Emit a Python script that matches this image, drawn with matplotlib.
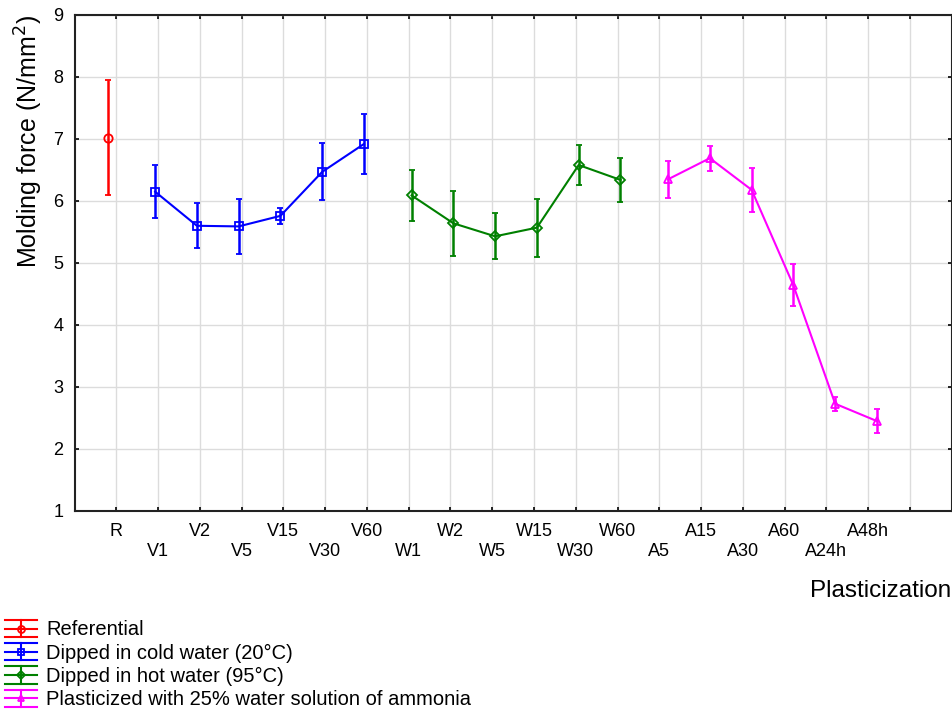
import numpy as np
import matplotlib.pyplot as plt
from matplotlib.lines import Line2D
from matplotlib.legend_handler import HandlerBase

plt.rcParams['font.family'] = ['Liberation Sans', 'DejaVu Sans']

# categories on the x axis (last tick has no label)
labels = ['R', 'V1', 'V2', 'V5', 'V15', 'V30', 'V60',
          'W1', 'W2', 'W5', 'W15', 'W30', 'W60',
          'A5', 'A15', 'A30', 'A60', 'A24h', 'A48h', '']

ref_mean = [7.02]
ref_err = [0.93]

cold_mean = [6.15, 5.60, 5.59, 5.76, 6.47, 6.92]
cold_err = [0.43, 0.36, 0.44, 0.13, 0.46, 0.48]

hot_mean = [6.09, 5.64, 5.43, 5.57, 6.58, 6.34]
hot_err = [0.41, 0.52, 0.37, 0.47, 0.33, 0.36]

amm_mean = [6.35, 6.69, 6.18, 4.64, 2.73, 2.45]
amm_err = [0.30, 0.20, 0.36, 0.34, 0.11, 0.20]

series = [
    ('Referential', ref_mean, ref_err, 0, -0.21, '#ff0000', 'o'),
    ('Dipped in cold water (20°C)', cold_mean, cold_err, 1, -0.07, '#0000ff', 's'),
    ('Dipped in hot water (95°C)', hot_mean, hot_err, 7, 0.07, '#008000', 'D'),
    ('Plasticized with 25% water solution of ammonia', amm_mean, amm_err, 13, 0.21, '#ff00ff', '^'),
]


# legend symbol like statistica: three horizontal bars + whisker + marker
class Whisker(HandlerBase):
    def create_artists(self, legend, orig, xd, yd, w, h, fs, trans):
        col = orig.get_color()
        mk = orig.get_marker()
        x0, x1 = -xd, w - xd
        xm = (x0 + x1) / 2
        y0, y1 = -yd, h - yd
        ym = (y0 + y1) / 2
        arts = []
        for y in (y0, ym, y1):
            arts.append(Line2D([x0, x1], [y, y], color=col, lw=1.5))
        arts.append(Line2D([xm, xm], [y0, y1], color=col, lw=1.5))
        arts.append(Line2D([xm], [ym], color=col, marker=mk, ms=5 if mk != 'D' else 4,
                           mfc='none', mec=col, mew=1.3))
        for a in arts:
            a.set_transform(trans)
        return arts


fig = plt.figure(figsize=(9.53, 7.10), dpi=100)
ax = fig.add_axes([0.0782, 0.2803, 0.9204, 0.6986])

proxies = []
for name, m, e, start, off, col, mk in series:
    x = np.arange(start, start + len(m)) + off
    ms = 5.5
    if mk == 'D':
        ms = 5
    if mk == 'o':
        ms = 6
    ax.errorbar(x, m, yerr=e, color=col, marker=mk, ms=ms, mfc='none',
                mec=col, mew=1.3, lw=1.5, elinewidth=1.8, capsize=2,
                capthick=1.8)
    proxies.append(Line2D([], [], color=col, marker=mk, label=name))

ax.set_xlim(-1, 20)
ax.set_ylim(1, 9)
ax.set_xticks(np.arange(20))
ax.set_xticklabels([l if i % 2 == 0 else '\n' + l for i, l in enumerate(labels)])
ax.set_yticks(np.arange(1, 10))
ax.grid(True, color='#dcdcdc', lw=1)
ax.set_axisbelow(True)
ax.tick_params(direction='in', length=3, width=1.2, top=True, right=True,
               labelsize=13, colors='black')
ax.tick_params(axis='x', pad=9)
ax.tick_params(axis='y', pad=8)
for s in ax.spines.values():
    s.set_linewidth(1.5)
    s.set_color('#222222')

ax.set_ylabel('Molding force (N/mm$^2$)', fontsize=18, loc='top', labelpad=6)
ax.set_xlabel('Plasticization', fontsize=17.5, loc='right', labelpad=14)

fig.legend(handles=proxies, handler_map={Line2D: Whisker()},
           loc='upper left', bbox_to_anchor=(0.005, 0.127), frameon=False,
           fontsize=14.5, labelspacing=0.18, handlelength=1.6, handleheight=0.95,
           handletextpad=0.45, borderaxespad=0, borderpad=0)

fig.savefig('out.png', dpi=100)
